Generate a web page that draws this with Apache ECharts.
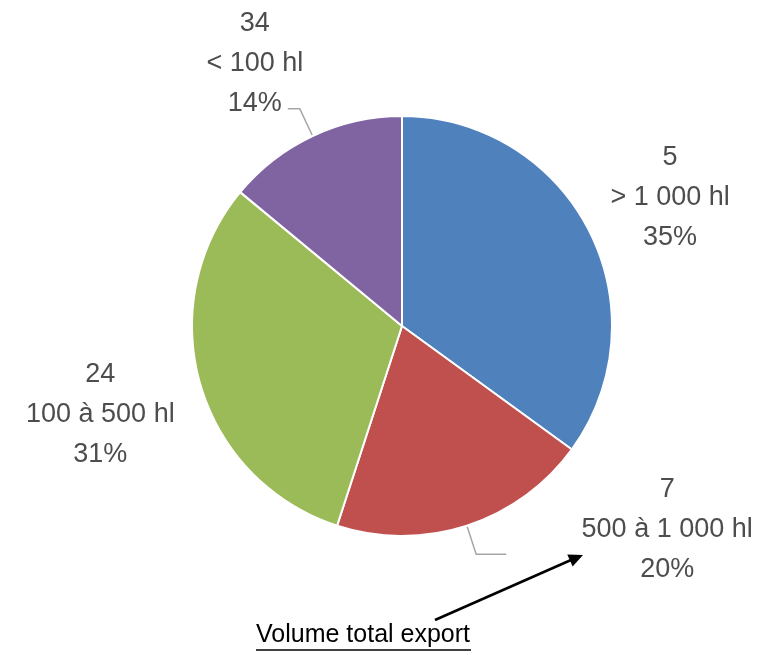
<!DOCTYPE html>
<html><head><meta charset="utf-8">
<script src="https://cdn.jsdelivr.net/npm/echarts@6/dist/echarts.min.js"></script>
<style>html,body{margin:0;padding:0;background:#fff}#c{width:769px;height:655px}</style>
</head><body><div id="c"></div>
<script>
const categories = ['> 1 000 hl', '500 à 1 000 hl', '100 à 500 hl', '< 100 hl'];
const counts = [5, 7, 24, 34];
const shares = [35, 20, 31, 14];
const colors = ['#4F81BD', '#C0504D', '#9BBB59', '#8064A2'];
const annotationText = 'Volume total export';

// per-slice label placement (style only)
const labelCfg = [
  {line: false, len: 0, len2: 0, width: 152, top: 0, bottom: 67},
  {line: true, len: 30, len2: 30, width: 312, top: 0, bottom: 49},
  {line: false, len: 0, len2: 0, width: 190, top: 59, bottom: 0},
  {line: true, len: 30, len2: 12, width: 56, top: 0, bottom: 91}
];

const FONT = 'Liberation Sans, Arial, sans-serif';
const TXT = '#4d4d4d';

const data = categories.map((c, i) => {
  const cfg = labelCfg[i];
  const rich = {
    t: {width: cfg.width, align: 'center', fontFamily: FONT, fontSize: 27, lineHeight: 40, color: TXT},
    gt: {width: cfg.width, lineHeight: cfg.top || 1, fontSize: 1},
    gb: {width: cfg.width, lineHeight: cfg.bottom || 1, fontSize: 1}
  };
  let s = '';
  if (cfg.top) s += '{gt| }\n';
  s += '{t|' + counts[i] + '}\n{t|' + c + '}\n{t|' + shares[i] + '%}';
  if (cfg.bottom) s += '\n{gb| }';
  return {
    name: c,
    value: shares[i],
    itemStyle: {color: colors[i]},
    label: {formatter: s, rich: rich, width: cfg.width},
    labelLine: {show: cfg.line, length: cfg.len, length2: cfg.len2}
  };
});

const chart = echarts.init(document.getElementById('c'), null, {renderer: 'canvas'});
chart.setOption({
  animation: false,
  series: [{
    type: 'pie',
    center: [402, 326],
    radius: 210,
    startAngle: 90,
    clockwise: true,
    avoidLabelOverlap: false,
    itemStyle: {borderColor: '#fff', borderWidth: 2},
    label: {
      show: true,
      position: 'outside',
      alignTo: 'none',
      overflow: 'none',
      fontFamily: FONT,
      fontSize: 27,
      color: TXT
    },
    labelLine: {lineStyle: {color: '#A6A6A6', width: 1.5}, smooth: false},
    emphasis: {disabled: true},
    data: data
  }],
  graphic: [
    {type: 'text', left: 256, top: 623, style: {text: annotationText, font: '25px "Liberation Sans", Arial, sans-serif', fill: '#000'}},
    {type: 'line', shape: {x1: 256, y1: 650, x2: 471, y2: 650}, style: {stroke: '#000', lineWidth: 1.5}},
    {type: 'line', shape: {x1: 435, y1: 620, x2: 571, y2: 560}, style: {stroke: '#000', lineWidth: 2.5}},
    {type: 'polygon', shape: {points: [[583, 555], [572.6, 566.6], [567.3, 554.6]]}, style: {fill: '#000'}}
  ]
});
</script></body></html>
